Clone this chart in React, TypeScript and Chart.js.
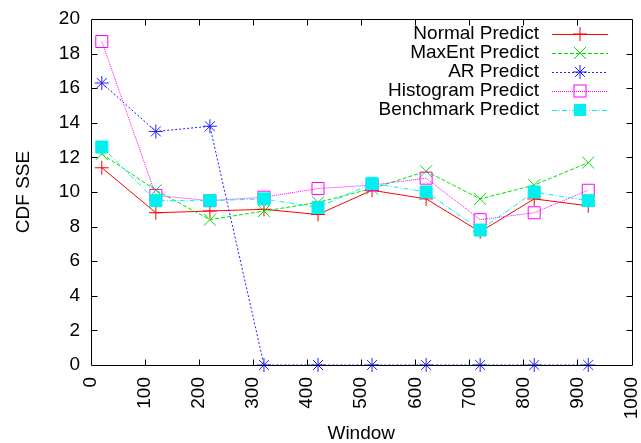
import React, { useEffect, useRef } from "react";
import { Chart, registerables } from "chart.js";

Chart.register(...registerables);

const windows = [20, 120, 220, 320, 420, 520, 620, 720, 820, 920];
const normalPredict = [11.4, 8.8, 8.9, 9.0, 8.7, 10.1, 9.6, 7.7, 9.6, 9.2];
const maxEntPredict = [12.2, 10.1, 8.4, 8.9, 9.4, 10.2, 11.2, 9.6, 10.4, 11.7];
const arPredict = [16.3, 13.5, 13.8, 0, 0, 0, 0, 0, 0, 0];
const histogramPredict = [18.7, 9.8, 9.5, 9.7, 10.2, 10.4, 10.8, 8.4, 8.8, 10.1];
const benchmarkPredict = [12.6, 9.5, 9.5, 9.6, 9.1, 10.5, 10.0, 7.8, 10.0, 9.5];

const seriesNames = ["Normal Predict", "MaxEnt Predict", "AR Predict", "Histogram Predict", "Benchmark Predict"];

const FONT = "'Liberation Sans', Arial, sans-serif";
const FS = 19;

type Style = { color: string; dash: number[]; point: string; radius: number; fill: boolean };
const styles: Style[] = [
  { color: "#ff0000", dash: [], point: "cross", radius: 7, fill: false },
  { color: "#00e000", dash: [4, 2], point: "crossRot", radius: 8.5, fill: false },
  { color: "#2020ff", dash: [2, 2], point: "star", radius: 7, fill: false },
  { color: "#ff00ff", dash: [1, 1], point: "rect", radius: 8.5, fill: false },
  { color: "#00f0f0", dash: [5, 2, 1, 2], point: "rect", radius: 8.5, fill: true },
];

function drawMarker(ctx: CanvasRenderingContext2D, s: Style, x: number, y: number) {
  ctx.save();
  ctx.setLineDash([]);
  ctx.strokeStyle = s.color;
  ctx.fillStyle = s.color;
  ctx.lineWidth = 1;
  const r = s.radius;
  ctx.beginPath();
  if (s.point === "cross") {
    ctx.moveTo(x - r, y); ctx.lineTo(x + r, y);
    ctx.moveTo(x, y - r); ctx.lineTo(x, y + r);
    ctx.stroke();
  } else if (s.point === "crossRot") {
    const o = r * Math.SQRT1_2;
    ctx.moveTo(x - o, y - o); ctx.lineTo(x + o, y + o);
    ctx.moveTo(x - o, y + o); ctx.lineTo(x + o, y - o);
    ctx.stroke();
  } else if (s.point === "star") {
    const o = r * Math.SQRT1_2;
    ctx.moveTo(x - r, y); ctx.lineTo(x + r, y);
    ctx.moveTo(x, y - r); ctx.lineTo(x, y + r);
    ctx.moveTo(x - o, y - o); ctx.lineTo(x + o, y + o);
    ctx.moveTo(x - o, y + o); ctx.lineTo(x + o, y - o);
    ctx.stroke();
  } else {
    const h = r * Math.SQRT1_2;
    if (s.fill) ctx.fillRect(x - h, y - h, 2 * h, 2 * h);
    else ctx.strokeRect(x - h, y - h, 2 * h, 2 * h);
  }
  ctx.restore();
}

const framePlugin = {
  id: "gnuFrame",
  afterDatasetsDraw(chart: any) {
    const { ctx, chartArea: a, scales } = chart;
    ctx.save();
    ctx.strokeStyle = "#000";
    ctx.lineWidth = 1;
    ctx.setLineDash([]);
    ctx.beginPath();
    const L = Math.round(a.left) + 0.5, R = Math.round(a.right) + 0.5;
    const T = Math.round(a.top) + 0.5, B = Math.round(a.bottom) + 0.5;
    ctx.rect(L, T, R - L, B - T);
    const tl = 6;
    for (let v = 100; v < 1000; v += 100) {
      const x = Math.round(scales.x.getPixelForValue(v)) + 0.5;
      ctx.moveTo(x, B); ctx.lineTo(x, B - tl);
      ctx.moveTo(x, T); ctx.lineTo(x, T + tl);
    }
    for (let v = 2; v < 20; v += 2) {
      const y = Math.round(scales.y.getPixelForValue(v)) + 0.5;
      ctx.moveTo(L, y); ctx.lineTo(L + tl, y);
      ctx.moveTo(R, y); ctx.lineTo(R - tl, y);
    }
    ctx.stroke();

    // legend
    ctx.font = `${FS}px ${FONT}`;
    ctx.fillStyle = "#000";
    ctx.textAlign = "right";
    ctx.textBaseline = "middle";
    const rows = [34, 53, 72, 91, 110];
    seriesNames.forEach((name, i) => {
      const y = rows[i];
      ctx.fillText(name, 539, y);
      const s = styles[i];
      ctx.save();
      ctx.strokeStyle = s.color;
      ctx.setLineDash(s.dash);
      ctx.beginPath();
      ctx.moveTo(552, y + 0.5);
      ctx.lineTo(608, y + 0.5);
      ctx.stroke();
      ctx.restore();
      drawMarker(ctx, s, 580, y);
    });
    ctx.restore();
  },
};

const seriesData = [normalPredict, maxEntPredict, arPredict, histogramPredict, benchmarkPredict];

export default function App() {
  const ref = useRef<HTMLCanvasElement | null>(null);
  useEffect(() => {
    if (!ref.current) return;
    const datasets = seriesData.map((vals, i) => {
      const s = styles[i];
      return {
        label: seriesNames[i],
        data: windows.map((w, j) => ({ x: w, y: vals[j] })),
        borderColor: s.color,
        backgroundColor: s.fill ? s.color : "rgba(0,0,0,0)",
        borderWidth: 1,
        borderDash: s.dash,
        pointStyle: s.point,
        pointRadius: s.radius,
        pointBorderWidth: 1,
        pointBorderColor: s.color,
        pointBackgroundColor: s.fill ? s.color : "rgba(0,0,0,0)",
        tension: 0,
        clip: false as any,
        order: 4 - i,
      };
    });
    const chart = new Chart(ref.current, {
      type: "line",
      data: { datasets },
      options: {
        animation: false,
        responsive: false,
        maintainAspectRatio: false,
        layout: { padding: { top: 19, right: 9, left: 0, bottom: 0 } },
        plugins: { legend: { display: false }, tooltip: { enabled: false } },
        scales: {
          x: {
            type: "linear",
            min: 0,
            max: 1000,
            border: { display: false },
            grid: { display: false, drawTicks: false },
            ticks: {
              stepSize: 100,
              autoSkip: false,
              minRotation: 90,
              maxRotation: 90,
              padding: 12,
              color: "#000",
              font: { family: FONT, size: FS },
              callback: (v: any) => String(v),
            },
            title: {
              display: true,
              text: "Window",
              color: "#000",
              font: { family: FONT, size: FS },
              padding: { top: 0, bottom: -2 },
            },
            afterFit: (scale: any) => {
              scale.height = 78;
              scale.paddingLeft = 0;
              scale.paddingRight = 0;
            },
          },
          y: {
            min: 0,
            max: 20,
            border: { display: false },
            grid: { display: false, drawTicks: false },
            ticks: {
              stepSize: 2,
              padding: 11,
              color: "#000",
              font: { family: FONT, size: FS },
            },
            title: {
              display: true,
              text: "CDF SSE",
              color: "#000",
              font: { family: FONT, size: FS },
              padding: { top: 12, bottom: 0 },
            },
            afterFit: (scale: any) => {
              scale.width = 91;
              scale.paddingTop = 0;
              scale.paddingBottom = 0;
            },
          },
        },
      },
      plugins: [framePlugin],
    } as any);
    return () => chart.destroy();
  }, []);
  return (
    <div style={{ position: "absolute", left: 0, top: 0, width: 641, height: 443, background: "#fff" }}>
      <canvas ref={ref} width={641} height={443} style={{ width: 641, height: 443 }} />
    </div>
  );
}
